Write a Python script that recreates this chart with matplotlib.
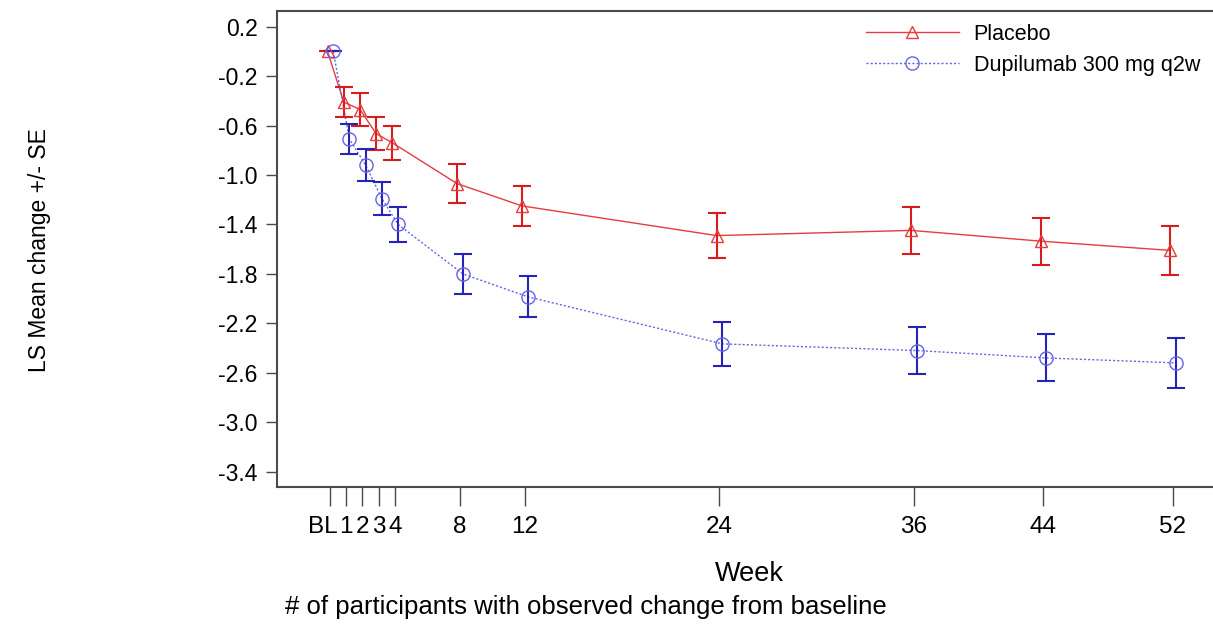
import numpy as np
import matplotlib.pyplot as plt
import matplotlib.transforms as mtransforms
from matplotlib.lines import Line2D

weeks = [0, 1, 2, 3, 4, 8, 12, 24, 36, 44, 52]
week_labels = ['BL', '1', '2', '3', '4', '8', '12', '24', '36', '44', '52']

placebo_mean = [0.0, -0.41, -0.47, -0.665, -0.74, -1.07, -1.25, -1.49, -1.448, -1.535, -1.61]
placebo_se = [0.0, 0.12, 0.13, 0.135, 0.14, 0.16, 0.165, 0.18, 0.19, 0.19, 0.20]

dupi_mean = [0.0, -0.71, -0.92, -1.19, -1.40, -1.80, -1.985, -2.366, -2.42, -2.48, -2.52]
dupi_se = [0.0, 0.12, 0.13, 0.135, 0.145, 0.16, 0.165, 0.18, 0.19, 0.19, 0.20]

yticks = [0.2, -0.2, -0.6, -1.0, -1.4, -1.8, -2.2, -2.6, -3.0, -3.4]

FONT = ['Liberation Sans', 'DejaVu Sans']
plt.rcParams['font.family'] = FONT

fig = plt.figure(figsize=(12.13, 6.26), dpi=100)
ax = fig.add_axes([277/1213, 1-487/626, (1215-277)/1213, (487-11)/626])

x = np.array(weeks, dtype=float)
red_line = '#e63c3e'
red_bar = '#d81c1c'
blue_line = '#6464e6'
blue_bar = '#2424b8'

# slight horizontal offset between the two groups, as in the original
ax.plot(x - 0.15, placebo_mean, color=red_line, lw=1.0, zorder=2)
ax.errorbar(x - 0.15, placebo_mean, yerr=placebo_se, fmt='none', ecolor=red_bar,
            elinewidth=1.5, capsize=6.8, capthick=1.5, zorder=3)
ax.plot(x - 0.15, placebo_mean, ls='none', marker='^', ms=9, mfc='none',
        mec=red_line, mew=1.0, zorder=4)

ax.plot(x + 0.2, dupi_mean, color=blue_line, lw=1.0, ls=(0, (1.5, 1.5)), zorder=2)
ax.errorbar(x + 0.2, dupi_mean, yerr=dupi_se, fmt='none', ecolor=blue_bar,
            elinewidth=1.5, capsize=6.8, capthick=1.5, zorder=3)
ax.plot(x + 0.2, dupi_mean, ls='none', marker='o', ms=9.5, mfc='none',
        mec=blue_line, mew=1.0, zorder=4)

ax.set_xlim(-3.27, 54.6)
ax.set_ylim(-3.524, 0.327)
ax.set_xticks(weeks)
ax.set_xticklabels(week_labels)
ax.set_yticks(yticks)
ax.set_yticklabels(['%.1f' % v for v in yticks])

for s in ['left', 'bottom', 'top']:
    ax.spines[s].set_color('#4a4a4a')
    ax.spines[s].set_linewidth(1.5)
ax.spines['right'].set_visible(False)

ax.tick_params(axis='x', length=14, width=1.0, color='#4a4a4a', pad=7, labelsize=17.5)
ax.tick_params(axis='y', length=8, width=1.0, color='#4a4a4a', pad=6, labelsize=16.5)

# BL label sits a little left of its tick so it doesn't run into "1"
bl = ax.get_xticklabels()[0]
bl.set_transform(bl.get_transform() + mtransforms.ScaledTranslation(-7/100, 0, fig.dpi_scale_trans))

handles = [Line2D([], [], color=red_line, lw=1.0, marker='^', ms=9, mfc='none', mec=red_line),
           Line2D([], [], color=blue_line, lw=1.0, ls=(0, (1.5, 1.5)), marker='o', ms=9.5,
                  mfc='none', mec=blue_line)]
ax.legend(handles, ['Placebo', 'Dupilumab 300 mg q2w'], loc='upper left',
          bbox_to_anchor=(866/1213, 1-24/626), bbox_transform=fig.transFigure,
          frameon=False, fontsize=15.5, handlelength=4.3, handletextpad=0.7,
          borderpad=0, borderaxespad=0, labelspacing=0.45)

fig.text(40/1213, 1-250/626, 'LS Mean change +/- SE', rotation=90, ha='center',
         va='center', fontsize=16.5)
fig.text(749/1213, 1-574/626, 'Week', ha='center', va='center', fontsize=19.5)
fig.text(285/1213, 1-607/626, '# of participants with observed change from baseline',
         ha='left', va='center', fontsize=18.5)

fig.savefig('out.png', dpi=100)
